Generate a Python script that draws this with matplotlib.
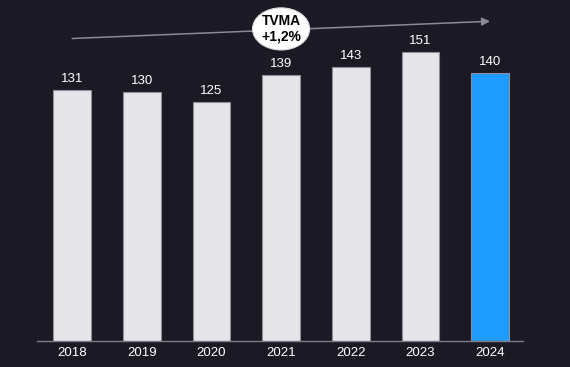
import matplotlib
matplotlib.use("Agg")
import matplotlib.pyplot as plt
from matplotlib.patches import Ellipse

# data
years = ["2018", "2019", "2020", "2021", "2022", "2023", "2024"]
values = [131, 130, 125, 139, 143, 151, 140]
cagr_label = "TVMA\n+1,2%"

BG = "#1b1a24"
BAR = "#e6e5ea"
HIGHLIGHT = "#1e9bff"
EDGE = "#8e8e99"

plt.rcParams["font.family"] = ["Liberation Sans", "DejaVu Sans"]

fig = plt.figure(figsize=(5.7, 3.67), dpi=100, facecolor=BG)
ax = fig.add_axes([0.0654, 0.0708, 0.853, 0.913])
ax.set_facecolor(BG)

x = list(range(len(years)))
colors = [BAR] * (len(years) - 1) + [HIGHLIGHT]
ax.bar(x, values, width=0.54, color=colors, edgecolor=EDGE, linewidth=0.8)

for xi, v in zip(x, values):
    ax.text(xi, v + 2.5, str(v), ha="center", va="bottom", color="white", fontsize=9.5)

ax.set_xlim(-0.5, 6.48)
ax.set_ylim(0, 175)
ax.set_xticks(x)
ax.set_xticklabels(years, color="white", fontsize=9.5)
ax.tick_params(axis="x", length=0, pad=4.5)
ax.set_yticks([])
for side in ("top", "right", "left"):
    ax.spines[side].set_visible(False)
ax.spines["bottom"].set_color("#7c7c86")
ax.spines["bottom"].set_linewidth(1.0)

# trend arrow with CAGR bubble
ax.annotate("", xy=(6.0, 167), xytext=(0.0, 158),
            arrowprops=dict(arrowstyle="-|>", color="#8a8a94", lw=1.1,
                            mutation_scale=12, shrinkA=0, shrinkB=0),
            annotation_clip=False)
ax.add_patch(Ellipse((3.0, 163), 0.82, 22, facecolor="white", edgecolor="#dcdce0",
                     linewidth=0.8, clip_on=False, zorder=3))
ax.text(3.0, 163, cagr_label, ha="center", va="center", color="black",
        fontsize=10, fontweight="bold", linespacing=1.1, zorder=4)

fig.savefig("out.png", dpi=100, facecolor=BG)
